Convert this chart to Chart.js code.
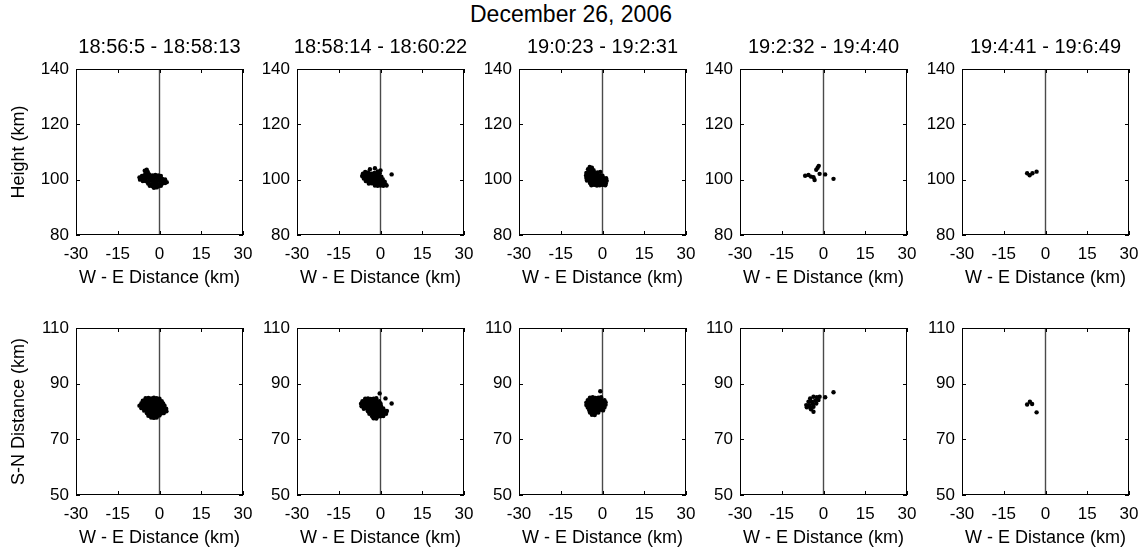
<!DOCTYPE html>
<html>
<head>
<meta charset="utf-8">
<script src="https://cdn.jsdelivr.net/npm/chart.js@4.4.0/dist/chart.umd.min.js"></script>
<style>
  html, body { margin: 0; padding: 0; background: #fff; overflow: hidden; }
  #wrap { position: relative; width: 1142px; height: 553px; }
  #main-title { position: absolute; left: 0; top: 1px; width: 1142px; text-align: center;
    font: 23px 'Liberation Sans', Arial, sans-serif; line-height: 26px; color: #000; }
  canvas { position: absolute; }
</style>
</head>
<body>
<div id="wrap">
  <div id="main-title">December 26, 2006</div>
</div>
<script>
// panel titles (time windows)
const panelTitles = ['18:56:5 - 18:58:13', '18:58:14 - 18:60:22', '19:0:23 - 19:2:31', '19:2:32 - 19:4:40', '19:4:41 - 19:6:49'];
const xTicks = [-30, -15, 0, 15, 30];
const heightTicks = [80, 100, 120, 140];
const snTicks = [50, 70, 90, 110];
const zeroLineX = 0;

// top row: W-E distance vs height (km)
const heightPts1 = [
  [-7.2,100.8],[-7.0,100.0],[-6.3,101.3],[-6.2,100.3],[-6.0,99.5],
  [-5.3,103.2],[-4.6,103.6],[-4.2,102.8],[-5.0,102.2],[-3.8,102.0],
  [-5.5,101.5],[-4.5,101.4],[-3.5,101.6],[-2.5,101.5],[-1.5,101.7],[-0.5,101.5],[0.5,101.3],
  [-5.1,100.5],[-4.0,100.6],[-3.0,100.4],[-2.0,100.5],[-1.0,100.6],[0.0,100.4],[1.0,100.3],[2.0,100.1],
  [-5.0,99.5],[-4.0,99.4],[-3.0,99.6],[-2.0,99.5],[-1.0,99.4],[0.0,99.6],[1.0,99.5],[2.0,99.3],[2.6,99.1],
  [-4.1,98.6],[-3.0,98.4],[-2.0,98.5],[-1.0,98.6],[0.0,98.4],[1.0,98.6],[2.0,98.8],
  [-3.5,97.8],[-2.5,97.6],[-1.5,97.5],[-0.5,97.6],[0.5,97.8],
  [-2.0,97.1],[-1.0,97.2]
];
const heightPts2 = [
  [-3.8,103.8],[-2.0,104.1],[0.0,103.3],[-1.0,103.0],[-5.5,102.8],[-4.5,102.6],
  [-6.3,102.2],[-5.2,102.1],[-4.2,102.3],[-3.2,102.2],[-2.2,102.4],[-1.2,102.2],[-0.3,102.3],
  [-6.6,101.3],[-5.6,101.2],[-4.6,101.4],[-3.6,101.3],[-2.6,101.2],[-1.6,101.4],[-0.6,101.3],[0.3,101.1],
  [-6.0,100.4],[-5.0,100.3],[-4.0,100.5],[-3.0,100.4],[-2.0,100.3],[-1.0,100.5],[0.0,100.4],[0.8,100.2],
  [-5.3,99.5],[-4.3,99.6],[-3.3,99.4],[-2.3,99.5],[-1.3,99.6],[-0.3,99.4],[0.7,99.5],[1.5,99.3],
  [-4.2,98.6],[-3.2,98.7],[-2.2,98.5],[-1.2,98.6],[-0.2,98.5],[0.8,98.6],[1.8,98.4],
  [-2.0,97.9],[-1.0,97.8],[0.0,97.9],[1.0,97.8],[2.2,97.9],
  [4.0,101.9]
];
const heightPts3 = [
  [-4.6,104.6],[-3.8,104.3],[-5.2,103.8],[-4.2,103.5],[-3.2,103.4],
  [-5.8,102.4],[-4.8,102.6],[-3.8,102.5],[-2.8,102.4],[-1.8,102.6],[-0.8,102.8],
  [-5.9,101.5],[-4.9,101.6],[-3.9,101.4],[-2.9,101.5],[-1.9,101.6],[-0.9,101.5],[0.0,101.4],
  [-5.8,100.6],[-4.8,100.5],[-3.8,100.7],[-2.8,100.6],[-1.8,100.5],[-0.8,100.6],[0.2,100.7],[1.3,100.5],
  [-5.6,99.7],[-4.6,99.8],[-3.6,99.6],[-2.6,99.7],[-1.6,99.8],[-0.6,99.6],[0.4,99.7],[1.5,99.6],
  [-4.5,98.8],[-3.5,98.9],[-2.5,98.7],[-1.5,98.8],[-0.5,98.9],[0.5,98.8],[1.2,98.6],
  [-4.0,98.0],[-3.0,98.1],[-2.0,97.9],[-1.0,98.0],[0.0,98.1],[1.0,98.0]
];
const heightPts4 = [
  [-1.7,105.0],[-2.1,104.3],[-2.6,103.6],[-1.4,102.1],[0.6,101.9],[3.6,100.3],
  [-6.6,101.4],[-5.4,101.7],[-4.5,101.1],[-3.6,100.9],[-3.2,99.9]
];
const heightPts5 = [[-6.6,102.3],[-5.7,101.6],[-4.7,102.3],[-3.2,102.9]];

// bottom row: W-E distance vs S-N distance (km)
const snPts1 = [
  [-5.0,84.8],[-4.0,84.9],[-3.0,84.7],[-2.0,85.0],[-1.0,84.8],[0.0,84.6],
  [-6.0,83.9],[-5.0,84.0],[-4.0,83.8],[-3.0,83.9],[-2.0,84.0],[-1.0,83.8],[0.0,83.9],[0.8,83.7],
  [-6.5,83.0],[-5.5,83.1],[-4.5,82.9],[-3.5,83.0],[-2.5,83.1],[-1.5,82.9],[-0.5,83.0],[0.5,83.1],[1.3,82.9],
  [-7.2,82.1],[-6.2,82.2],[-5.2,82.0],[-4.2,82.1],[-3.2,82.2],[-2.2,82.0],[-1.2,82.1],[-0.2,82.2],[0.8,82.0],[1.8,82.1],
  [-6.5,81.2],[-5.5,81.3],[-4.5,81.1],[-3.5,81.2],[-2.5,81.3],[-1.5,81.1],[-0.5,81.2],[0.5,81.3],[1.5,81.1],[2.4,81.0],
  [-5.5,80.3],[-4.5,80.4],[-3.5,80.2],[-2.5,80.3],[-1.5,80.4],[-0.5,80.2],[0.5,80.3],[1.5,80.4],[2.5,80.1],
  [-4.5,79.4],[-3.5,79.5],[-2.5,79.3],[-1.5,79.4],[-0.5,79.5],[0.5,79.3],[1.5,79.4],
  [-4.0,78.5],[-3.0,78.6],[-2.0,78.4],[-1.0,78.5],[0.0,78.6],
  [-3.0,77.8],[-2.0,77.7],[-1.0,77.8]
];
const snPts2 = [
  [-5.5,84.6],[-4.5,84.7],[-3.5,84.5],[-2.5,84.6],[-1.5,84.8],
  [-6.5,83.7],[-5.5,83.8],[-4.5,83.6],[-3.5,83.7],[-2.5,83.8],[-1.5,83.6],[-0.5,83.7],
  [-7.0,82.8],[-6.0,82.9],[-5.0,82.7],[-4.0,82.8],[-3.0,82.9],[-2.0,82.7],[-1.0,82.8],[0.0,82.9],
  [-6.8,81.9],[-5.8,82.0],[-4.8,81.8],[-3.8,81.9],[-2.8,82.0],[-1.8,81.8],[-0.8,81.9],[0.2,82.0],
  [-6.0,81.0],[-5.0,81.1],[-4.0,80.9],[-3.0,81.0],[-2.0,81.1],[-1.0,80.9],[0.0,81.0],[1.0,81.1],
  [-4.5,80.1],[-3.5,80.2],[-2.5,80.0],[-1.5,80.1],[-0.5,80.2],[0.5,80.0],[1.5,80.1],[2.3,80.2],
  [-4.0,79.2],[-3.0,79.3],[-2.0,79.1],[-1.0,79.2],[0.0,79.3],[1.0,79.1],[2.0,79.2],
  [-3.0,78.3],[-2.0,78.4],[-1.0,78.2],[0.0,78.3],[1.0,78.4],
  [-2.5,77.6],[-1.5,77.5],
  [-0.3,86.5],[1.8,84.7],[4.0,82.9]
];
const snPts3 = [
  [-0.8,87.3],
  [-4.5,85.0],[-3.5,85.1],[-2.5,84.9],[-1.5,85.0],[-0.5,85.1],
  [-5.3,84.1],[-4.3,84.2],[-3.3,84.0],[-2.3,84.1],[-1.3,84.2],[-0.3,84.0],[0.7,84.1],
  [-5.8,83.2],[-4.8,83.3],[-3.8,83.1],[-2.8,83.2],[-1.8,83.3],[-0.8,83.1],[0.2,83.2],[1.1,83.3],
  [-5.8,82.3],[-4.8,82.4],[-3.8,82.2],[-2.8,82.3],[-1.8,82.4],[-0.8,82.2],[0.2,82.3],[1.1,82.4],
  [-5.3,81.4],[-4.3,81.5],[-3.3,81.3],[-2.3,81.4],[-1.3,81.5],[-0.3,81.3],[0.7,81.4],
  [-4.8,80.5],[-3.8,80.6],[-2.8,80.4],[-1.8,80.5],[-0.8,80.6],[0.2,80.4],
  [-4.5,79.6],[-3.5,79.7],[-2.5,79.5],[-1.5,79.6],
  [-3.8,78.8],[-2.8,78.7]
];
const snPts4 = [
  [-4.8,84.7],[-3.6,85.3],[-2.4,85.1],[-1.4,85.3],[0.6,85.1],[3.6,86.9],
  [-5.4,83.5],[-4.2,83.5],[-3.0,83.9],[-1.8,84.1],
  [-6.2,82.3],[-5.0,82.3],[-3.8,82.7],[-2.6,82.9],
  [-6.0,81.5],[-4.8,81.5],[-3.6,81.7],
  [-4.5,80.8],[-3.6,79.9]
];
const snPts5 = [[-6.6,82.5],[-5.6,83.5],[-4.8,82.7],[-3.2,79.7]];

const heightRows = [heightPts1, heightPts2, heightPts3, heightPts4, heightPts5];
const snRows = [snPts1, snPts2, snPts3, snPts4, snPts5];

Chart.defaults.font.family = "'Liberation Sans', Arial, Helvetica, sans-serif";
Chart.defaults.color = '#000';

const plotLefts = [76, 297, 519, 740, 962];
const plotW = 167;
const wrap = document.getElementById('wrap');

// box round the plot area, inward ticks on all sides, and panel title
const framePlugin = {
  id: 'frame',
  afterDraw(chart, args, opts) {
    const { ctx, chartArea: a, scales: { x, y } } = chart;
    ctx.save();
    ctx.strokeStyle = '#000';
    ctx.lineWidth = 1;
    ctx.strokeRect(a.left + 0.5, a.top + 0.5, a.width - 1, a.height - 1);
    ctx.beginPath();
    x.ticks.forEach(t => {
      const px = Math.round(x.getPixelForValue(t.value)) + 0.5;
      ctx.moveTo(px, a.bottom); ctx.lineTo(px, a.bottom - 4);
      ctx.moveTo(px, a.top); ctx.lineTo(px, a.top + 4);
    });
    y.ticks.forEach(t => {
      const py = Math.round(y.getPixelForValue(t.value)) + 0.5;
      ctx.moveTo(a.left, py); ctx.lineTo(a.left + 4, py);
      ctx.moveTo(a.right, py); ctx.lineTo(a.right - 4, py);
    });
    ctx.stroke();
    if (opts.title) {
      ctx.fillStyle = '#000';
      ctx.font = "20px 'Liberation Sans', Arial, sans-serif";
      ctx.textAlign = 'center';
      ctx.textBaseline = 'middle';
      ctx.fillText(opts.title, (a.left + a.right) / 2, a.top - 22);
    }
    ctx.restore();
  }
};

function makePanel(col, row, pts) {
  const yTicks = row === 0 ? heightTicks : snTicks;
  const yMin = yTicks[0], yMax = yTicks[yTicks.length - 1];
  const plotTop = row === 0 ? 69 : 328;
  const plotH = row === 0 ? 166 : 167;
  const w = 76 + plotW + 12, h = 40 + plotH + 55;
  const canvas = document.createElement('canvas');
  canvas.width = w; canvas.height = h;
  canvas.style.left = (plotLefts[col] - 76) + 'px';
  canvas.style.top = (plotTop - 40) + 'px';
  canvas.style.width = w + 'px';
  canvas.style.height = h + 'px';
  wrap.appendChild(canvas);

  new Chart(canvas, {
    type: 'scatter',
    data: {
      datasets: [
        {
          data: pts.map(p => ({ x: p[0], y: p[1] })),
          backgroundColor: '#000',
          borderWidth: 0,
          pointRadius: 2.2
        },
        {
          data: [{ x: zeroLineX, y: yMin }, { x: zeroLineX, y: yMax }],
          showLine: true,
          borderColor: '#4a4a4a',
          borderWidth: 1.4,
          pointRadius: 0
        }
      ]
    },
    options: {
      responsive: false,
      animation: false,
      events: [],
      layout: { padding: { top: 40, right: 12, left: 0, bottom: 0 } },
      plugins: {
        legend: { display: false },
        tooltip: { enabled: false },
        frame: { title: row === 0 ? panelTitles[col] : '' }
      },
      scales: {
        x: {
          type: 'linear',
          min: xTicks[0],
          max: xTicks[xTicks.length - 1],
          afterBuildTicks: s => { s.ticks = xTicks.map(v => ({ value: v })); },
          afterFit: s => { s.height = 55; s.paddingLeft = 0; s.paddingRight = 0; },
          grid: { display: false, drawTicks: false },
          border: { display: false },
          ticks: { font: { size: 17 }, padding: 9, maxRotation: 0, autoSkip: false },
          title: { display: true, text: 'W - E Distance (km)', font: { size: 18 }, padding: { top: 0, bottom: 1 } }
        },
        y: {
          type: 'linear',
          min: yMin,
          max: yMax,
          afterBuildTicks: s => { s.ticks = yTicks.map(v => ({ value: v })); },
          afterFit: s => { s.width = 76; s.paddingTop = 0; s.paddingBottom = 0; },
          grid: { display: false, drawTicks: false },
          border: { display: false },
          ticks: { font: { size: 17 }, padding: 7, autoSkip: false },
          title: {
            display: col === 0,
            text: row === 0 ? 'Height (km)' : 'S-N Distance (km)',
            font: { size: 18 },
            padding: { top: 8, bottom: 0 }
          }
        }
      }
    },
    plugins: [framePlugin]
  });
}

heightRows.forEach((pts, c) => makePanel(c, 0, pts));
snRows.forEach((pts, c) => makePanel(c, 1, pts));
</script>
</body>
</html>
